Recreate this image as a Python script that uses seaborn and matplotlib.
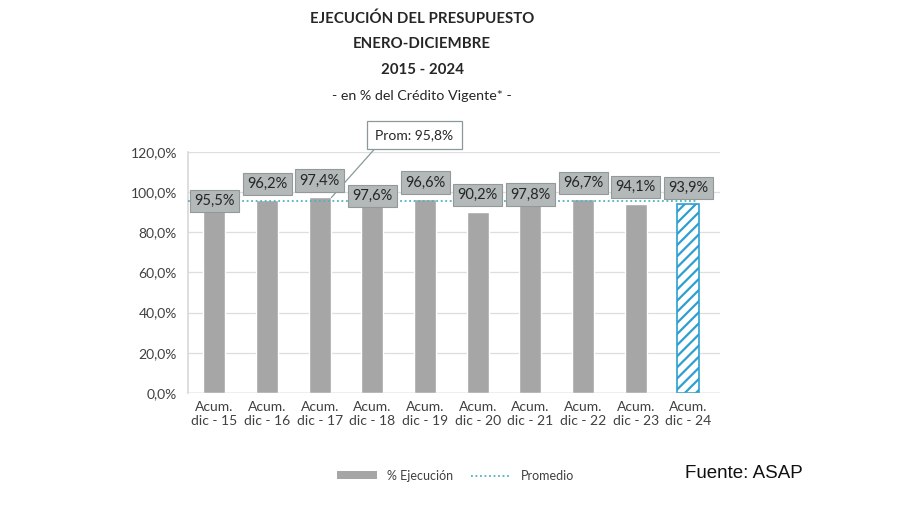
import matplotlib
matplotlib.use("Agg")
import matplotlib.pyplot as plt
import seaborn as sns
from matplotlib.lines import Line2D
from matplotlib.patches import Patch

# ─── Data ─────────────────────────────────────────────────────────────────────
categories = ["Acum.\ndic - 15", "Acum.\ndic - 16", "Acum.\ndic - 17",
              "Acum.\ndic - 18", "Acum.\ndic - 19", "Acum.\ndic - 20",
              "Acum.\ndic - 21", "Acum.\ndic - 22", "Acum.\ndic - 23",
              "Acum.\ndic - 24"]
ejecucion = [95.5, 96.2, 97.4, 97.6, 96.6, 90.2, 97.8, 96.7, 94.1, 93.9]
promedio = 95.8
y_ticks = [0, 20, 40, 60, 80, 100, 120]

# label box heights (Excel-like placement), in y units
label_y = [95.6, 104.1, 105.8, 98.1, 104.8, 98.6, 98.8, 104.6, 102.6, 102.1]

BAR_GRAY = "#a6a6a6"
HATCH_BLUE = "#2e9fd0"
TEXT = "#404040"

sns.set_theme(style="white")
plt.rcParams["font.family"] = ["Lato", "DejaVu Sans"]
plt.rcParams["hatch.linewidth"] = 1.6

fig = plt.figure(figsize=(9, 5.05), dpi=100)
ax = fig.add_axes([0.209, 0.222, 0.591, 0.477])

sns.barplot(x=categories, y=ejecucion, color=BAR_GRAY, saturation=1,
            width=0.42, ax=ax)

# last bar: hatched
last = ax.patches[-1]
last.set_facecolor("white")
last.set_edgecolor(HATCH_BLUE)
last.set_hatch("///")
last.set_linewidth(1.2)

ax.axhline(promedio, xmin=0, xmax=0.955, color="#4fb3c0", lw=1.3,
           ls=(0, (1, 1.5)), zorder=3)

ax.set_ylim(0, 120)
ax.set_xlim(-0.5, 9.6)
ax.set_yticks(y_ticks)
ax.set_yticklabels([f"{t:.1f}%".replace(".", ",") for t in y_ticks],
                   fontsize=10, color=TEXT)
ax.tick_params(axis="x", labelsize=10, colors=TEXT, length=0, pad=6)
ax.tick_params(axis="y", length=0, pad=8)
ax.yaxis.grid(True, color="#dedede", lw=0.9)
ax.set_axisbelow(True)
for s in ["top", "right", "bottom"]:
    ax.spines[s].set_visible(False)
ax.spines["left"].set_color("#d9d9d9")
ax.axhline(0, color="#bfbfbf", lw=1, zorder=1)

# value labels
for i, (v, ly) in enumerate(zip(ejecucion, label_y)):
    ax.text(i, ly, f"{v:.1f}%".replace(".", ","), ha="center", va="center",
            fontsize=10.5, color="#262626", zorder=5,
            bbox=dict(boxstyle="square,pad=0.3", fc="#b3b8b8", ec="#939999",
                      lw=0.8))

# callout for the average
ax.annotate(f"Prom: {promedio:.1f}%".replace(".", ","),
            xy=(2.22, 97.3), xytext=(3.8, 128.5),
            ha="center", va="center", fontsize=10, color="#262626",
            annotation_clip=False,
            bbox=dict(boxstyle="square,pad=0.6", fc="white", ec="#8a9999",
                      lw=0.9),
            arrowprops=dict(arrowstyle="-", color="#8a9999", lw=0.9,
                            shrinkA=0, shrinkB=0,
                            relpos=(0.08, 0.0)))

# titles
fig.text(0.469, 0.963, "EJECUCIÓN DEL PRESUPUESTO", ha="center", va="center",
         fontsize=10.8, fontweight="bold", color="#262626")
fig.text(0.469, 0.912, "ENERO-DICIEMBRE", ha="center", va="center",
         fontsize=10.8, fontweight="bold", color="#262626")
fig.text(0.469, 0.861, "2015 - 2024", ha="center", va="center",
         fontsize=10.8, fontweight="bold", color="#262626")
fig.text(0.469, 0.810, "- en % del Crédito Vigente* -", ha="center",
         va="center", fontsize=10.3, color="#262626")

# legend
handles = [Patch(facecolor=BAR_GRAY, edgecolor="none", label="% Ejecución"),
           Line2D([0], [0], color="#4fb3c0", lw=1.3, ls=(0, (1, 1.5)),
                  label="Promedio")]
fig.legend(handles=handles, loc="center", bbox_to_anchor=(0.506, 0.058),
           ncol=2, frameon=False, fontsize=9, handlelength=3.2,
           handleheight=0.6, columnspacing=1.4, labelcolor=TEXT)

fig.text(0.761, 0.062, "Fuente: ASAP", ha="left", va="center",
         fontsize=13.5, color="#111111", family=["Liberation Sans"])

fig.savefig("out.png", dpi=100)
